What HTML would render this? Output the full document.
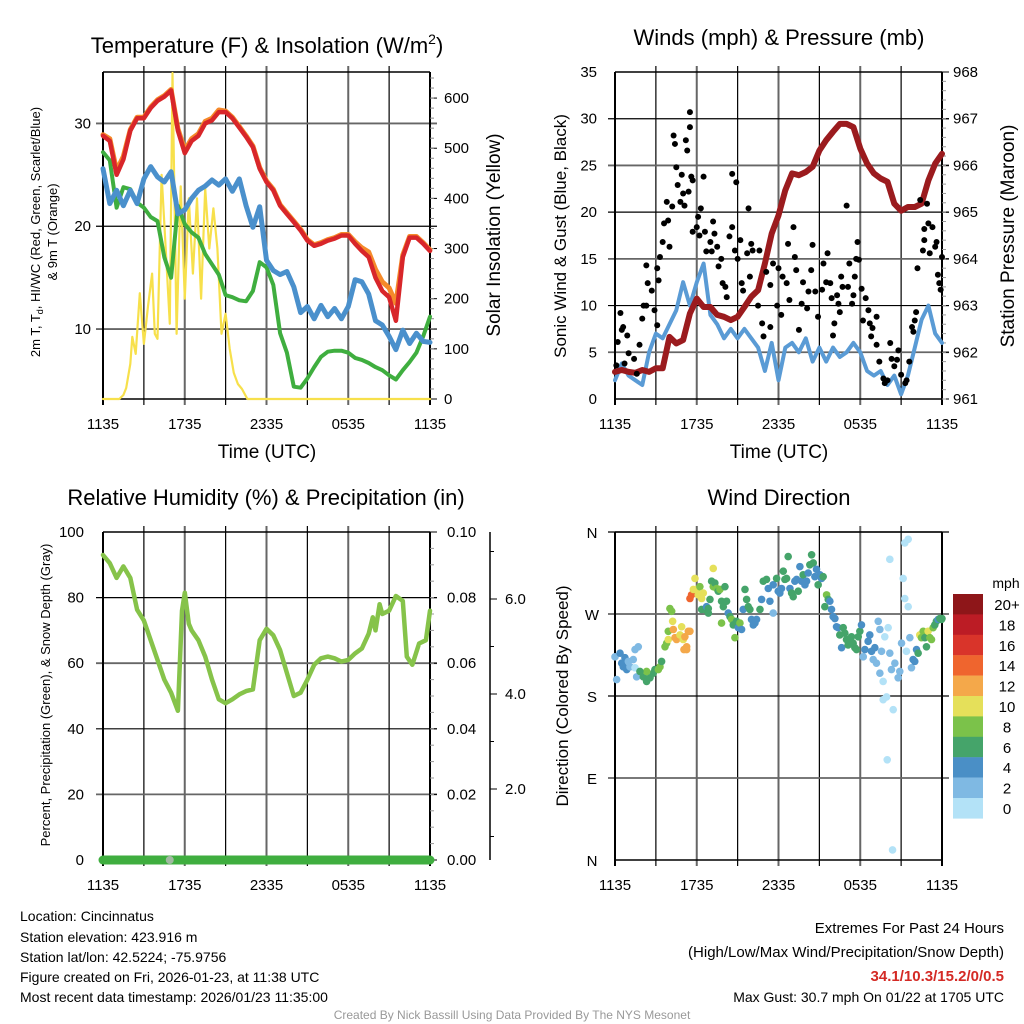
<!DOCTYPE html>
<html><head><meta charset="utf-8"><style>
body{margin:0;background:#fff;}
svg{display:block;font-family:"Liberation Sans",Arial,sans-serif;}
</style></head><body>
<svg id="chart" width="1024" height="1024" viewBox="0 0 1024 1024" xmlns="http://www.w3.org/2000/svg">
<rect width="1024" height="1024" fill="#fff"/>
<g id="g"></g>
<text x="267" y="53" font-size="22" text-anchor="middle">Temperature (F) &amp; Insolation (W/m<tspan font-size="14" dy="-9">2</tspan><tspan dy="9">)</tspan></text>
<text x="779" y="45" font-size="22" text-anchor="middle">Winds (mph) &amp; Pressure (mb)</text>
<text x="266" y="505" font-size="22" text-anchor="middle">Relative Humidity (%) &amp; Precipitation (in)</text>
<text x="779" y="505" font-size="22" text-anchor="middle">Wind Direction</text>
<text x="267" y="458" font-size="19" text-anchor="middle">Time (UTC)</text>
<text x="779" y="458" font-size="19" text-anchor="middle">Time (UTC)</text>
<text transform="translate(40,232) rotate(-90)" font-size="13" text-anchor="middle">2m T, T<tspan font-size="9" dy="3">d</tspan><tspan dy="-3">, HI/WC (Red, Green, Scarlet/Blue)</tspan></text>
<text transform="translate(57,232) rotate(-90)" font-size="13" text-anchor="middle">&amp; 9m T (Orange)</text>
<text transform="translate(500,235) rotate(-90)" font-size="19" text-anchor="middle">Solar Insolation (Yellow)</text>
<text transform="translate(566,236) rotate(-90)" font-size="17" text-anchor="middle">Sonic Wind &amp; Gust (Blue, Black)</text>
<text transform="translate(1014,236) rotate(-90)" font-size="19" text-anchor="middle">Station Pressure (Maroon)</text>
<text transform="translate(50,695) rotate(-90)" font-size="13" text-anchor="middle">Percent, Precipitation (Green), &amp; Snow Depth (Gray)</text>
<text transform="translate(568,696) rotate(-90)" font-size="17" text-anchor="middle">Direction (Colored By Speed)</text>
<g font-size="14">
<text x="20" y="921">Location: Cincinnatus</text>
<text x="20" y="942">Station elevation: 423.916 m</text>
<text x="20" y="962">Station lat/lon: 42.5224; -75.9756</text>
<text x="20" y="982">Figure created on Fri, 2026-01-23, at 11:38 UTC</text>
<text x="20" y="1002">Most recent data timestamp: 2026/01/23 11:35:00</text>
</g>
<g font-size="15" text-anchor="end">
<text x="1004" y="933">Extremes For Past 24 Hours</text>
<text x="1004" y="957">(High/Low/Max Wind/Precipitation/Snow Depth)</text>
<text x="1004" y="981" fill="#d42a25" font-weight="bold">34.1/10.3/15.2/0/0.5</text>
<text x="1004" y="1002" font-size="14">Max Gust: 30.7 mph On 01/22 at 1705 UTC</text>
</g>
<text x="512" y="1019" font-size="12" fill="#999" text-anchor="middle">Created By Nick Bassill Using Data Provided By The NYS Mesonet</text>
</svg>
<script>
// ---- Data ----
const hourTicks = ["1135","1735","2335","0535","1135"];
const halfHours = [0,0.5,1,1.5,2,2.5,3,3.5,4,4.5,5,5.5,6,6.5,7,7.5,8,8.5,9,9.5,10,10.5,11,11.5,12,12.5,13,13.5,14,14.5,15,15.5,16,16.5,17,17.5,18,18.5,19,19.5,20,20.5,21,21.5,22,22.5,23,23.5,24];
const tempRed = [28.8,28.3,25.0,26.5,29.3,30.5,30.5,31.5,32.2,32.6,33.2,29.3,27.1,28.3,28.8,30.0,30.3,31.1,31.1,30.5,29.6,28.7,27.7,25.6,24.3,23.5,22.0,21.2,20.4,19.6,18.6,18.1,18.3,18.6,18.8,19.1,19.1,18.3,17.6,17.0,15.0,13.7,13.1,10.8,17.0,18.9,18.9,18.3,17.6];
const temp9m = [28.9,28.5,25.4,26.8,29.4,30.6,30.6,31.6,32.3,32.7,33.3,29.5,27.4,28.5,29.0,30.2,30.5,31.3,31.2,30.6,29.7,28.8,27.8,25.7,24.4,23.6,22.1,21.3,20.5,19.7,18.7,18.2,18.4,18.7,18.9,19.2,19.2,18.5,17.9,17.5,15.8,14.6,14.0,12.5,17.2,19.0,19.0,18.4,17.7];
const tempDew = [27.2,26.4,21.8,23.8,23.6,22.3,21.8,20.9,20.5,17.0,15.0,22.0,20.2,19.4,18.9,17.3,16.3,15.3,13.3,13.1,12.8,12.7,13.7,16.5,16.0,14.3,9.6,7.7,4.4,4.3,5.2,6.3,7.3,7.8,7.9,7.9,7.7,7.2,7.0,6.7,6.3,6.0,5.5,5.1,6.0,6.8,7.7,9.3,11.2];
const tempWC = [25.6,22.2,23.5,22.0,23.5,22.2,24.6,25.8,24.8,24.3,25.3,21.2,21.6,22.7,23.5,23.9,24.5,24.0,24.6,23.4,24.6,22.0,19.9,21.9,16.7,15.7,15.3,15.6,14.1,11.6,12.2,11.0,12.3,11.2,12.0,11.0,12.2,14.8,14.6,13.4,10.8,10.4,9.3,8.0,9.9,8.6,9.6,8.8,8.7];
const solarT = [0,1.2,1.5,1.7,2.0,2.15,2.4,2.7,3.0,3.3,3.6,3.8,4.0,4.3,4.6,4.9,5.1,5.4,5.7,6.0,6.3,6.6,6.9,7.2,7.5,7.8,8.1,8.4,8.7,9.0,9.3,9.6,9.9,10.2,10.6,24];
const solarV = [0,0,8,22,70,124,90,211,110,185,250,130,120,447,300,150,650,130,424,200,400,250,400,200,420,300,380,300,130,170,100,52,30,20,0,0];
const windBlue = [2.0,3.8,2.5,2.0,1.5,5.0,7.0,6.5,8.0,9.5,12.5,10.0,12.5,14.5,9.0,8.0,6.5,7.5,6.5,7.5,6.5,5.5,3.0,6.0,2.0,5.5,6.0,5.0,6.5,4.0,5.5,4.0,5.5,4.5,5.0,6.0,5.0,3.0,2.5,3.0,1.5,2.5,0.5,2.5,5.5,8.5,10.0,7.0,6.0];
const pressure = [961.58,961.62,961.58,961.56,961.62,961.58,961.66,961.66,962.33,962.19,962.26,962.83,963.15,962.97,962.97,962.80,962.76,962.69,962.76,962.97,963.19,963.33,963.90,964.54,964.93,965.47,965.83,965.79,965.86,965.97,966.32,966.54,966.72,966.89,966.89,966.82,966.36,966.04,965.83,965.72,965.65,965.18,965.03,965.11,965.11,965.18,965.68,966.04,966.25];
const gustT = [0.1,0.2,0.4,0.6,0.5,0.9,1.0,0.7,1.4,1.6,1.8,2.0,2.1,2.3,2.3,2.4,2.7,2.9,3.1,3.1,3.2,3.3,3.5,3.6,3.8,3.9,4.0,4.2,4.3,4.4,4.5,4.6,4.8,4.9,5.0,5.1,5.3,5.2,5.4,5.5,5.5,5.6,5.7,5.7,6.0,6.1,6.3,6.2,6.5,6.6,6.7,7.0,7.1,7.2,7.3,7.5,7.6,7.8,7.9,8.1,8.2,8.4,8.6,8.6,8.8,8.9,9.0,9.2,9.3,9.4,9.7,9.8,9.9,10.0,10.1,10.5,10.6,10.8,10.9,11.1,11.4,11.4,11.6,11.9,12.0,12.2,12.3,12.6,12.7,12.8,13.1,13.2,13.3,13.5,13.7,13.8,14.1,14.2,14.4,14.5,14.7,14.9,15.2,15.3,15.5,15.6,15.8,15.9,16.0,16.1,16.3,16.4,16.5,16.6,16.7,17.0,17.1,17.2,17.4,17.5,17.6,17.7,17.8,17.9,18.1,18.2,18.4,18.6,18.7,18.8,18.9,19.2,19.2,19.4,19.7,19.8,20.0,20.2,20.3,20.5,20.7,20.8,21.0,21.3,21.4,21.6,21.8,21.9,22.0,22.1,22.2,22.4,22.6,22.7,22.7,22.9,23.0,23.1,23.3,23.5,23.6,23.7,23.8,24.0,23.9];
const gustV = [3.6,6.1,9.2,7.7,7.4,6.8,4.9,3.8,4.3,2.7,5.8,8.6,10.0,10.0,14.3,12.4,11.6,9.5,7.9,14.0,12.7,15.2,16.8,18.8,21.1,19.1,16.3,20.6,28.2,27.3,24.8,22.9,21.1,24.0,22.0,20.7,26.6,27.7,22.2,30.7,29.1,23.8,23.4,17.9,18.4,19.5,20.4,17.5,23.8,17.9,15.8,16.8,15.8,19.0,17.7,16.3,14.2,15.0,12.4,12.0,10.9,17.4,24.1,18.4,15.9,23.2,15.0,17.0,12.4,11.6,15.6,20.4,13.1,16.6,15.9,10.0,15.9,8.1,6.7,13.6,12.2,7.7,14.5,10.0,14.0,9.0,13.1,12.4,16.6,10.6,18.4,15.2,13.8,7.4,10.2,12.5,9.7,11.5,13.8,16.5,11.5,8.8,11.7,14.5,12.5,15.6,12.4,10.8,6.8,8.1,11.1,10.2,9.3,13.1,12.0,20.7,12.0,14.5,10.2,11.1,13.1,15.0,16.8,14.9,11.8,8.4,10.8,9.5,8.1,6.7,7.6,8.8,5.8,4.0,2.2,1.7,2.0,6.0,4.3,3.5,4.2,5.2,2.6,1.7,2.0,4.0,7.7,7.2,8.4,9.3,14.0,21.3,15.9,17.0,18.2,20.9,18.8,15.6,18.4,16.3,16.8,13.3,12.4,15.2,11.7];
const rhT = [0,0.5,1,1.5,2,2.5,3,3.5,4,4.5,5,5.5,5.8,6,6.3,6.5,7,7.5,8,8.5,9,9.5,10,10.5,11,11.5,12,12.5,13,13.5,14,14.5,15,15.5,16,16.5,17,17.5,18,18.5,19,19.5,19.8,20,20.3,20.5,21,21.5,22,22.3,22.7,23.2,23.7,24];
const rhV = [93,90.5,86,89.5,86,76.3,73,67,61,55,51,45.5,76,81.5,72,70,67,62,55,49,47.8,49,50.5,51.5,52,67,70.5,68.5,64,57,50,51,55,59.5,61.5,62,61.5,60.5,61,63,64.5,69,74,70,78,75,76,80.5,79,62,59.5,66,67,76];
const precipV = [0,0];
const dirT = [0,0.12,0.37,0.49,0.61,0.73,0.86,0.98,1.1,1.34,1.47,1.59,1.71,1.47,2.08,2.32,2.57,2.81,2.32,2.93,3.18,3.3,3.42,1.83,3.67,3.79,3.91,4.03,4.16,3.91,4.23,4.28,4.4,4.52,4.77,4.89,5.01,5.13,5.26,5.26,5.38,5.5,5.06,5.5,5.62,5.75,5.87,5.99,6.11,6.23,6.36,6.48,6.36,6.6,6.72,6.85,6.85,6.97,7.09,7.21,7.21,7.33,7.46,7.58,7.7,7.82,7.95,8.07,8.19,7.82,8.31,8.44,8.56,8.68,8.8,8.92,9.05,9.17,9.29,9.41,9.54,9.66,9.78,9.9,10.02,10.15,10.27,10.39,10.64,10.76,10.88,11.12,11.25,11.37,11.61,11.61,11.86,11.98,12.1,12.22,12.35,12.47,12.59,12.71,12.84,12.96,13.08,13.2,13.33,13.45,13.57,13.69,13.81,13.94,14.06,14.18,14.3,14.43,14.55,14.67,14.79,14.91,15.04,15.16,15.28,15.4,15.53,15.65,15.77,15.89,16.01,16.14,16.26,16.38,16.5,16.63,16.75,16.87,16.99,17.11,17.24,17.36,17.48,17.6,17.73,17.85,17.97,18.09,18.22,18.34,18.58,18.7,18.83,18.95,19.07,19.19,19.32,19.44,19.44,19.56,19.68,19.8,19.93,20.05,19.68,20.42,19.98,20.17,20.37,20.17,20.29,20.54,20.78,20.9,21.03,21.15,21.27,21.39,21.27,21.52,21.52,21.64,21.76,21.88,22.0,22.13,22.25,22.37,22.49,22.62,22.74,22.86,22.98,23.11,23.23,23.35,23.47,23.59,23.72,23.84,23.96,24.0];
const dirD = [223,198,227,216,212,222,209,218,212,220,231,201,234,211,201,196,200,205,207,209,209,212,218,207,234,238,251,276,273,242,262,253,244,242,247,256,242,245,234,231,251,251,231,287,291,297,309,297,291,300,287,293,275,275,278,276,271,286,306,320,300,304,298,295,297,284,278,300,284,260,271,267,264,258,244,262,255,260,253,275,297,286,278,275,264,258,260,264,275,286,306,308,298,284,271,302,309,295,293,298,317,308,309,333,298,293,289,306,308,295,322,306,313,302,306,315,324,335,326,311,319,302,313,309,311,278,291,286,284,275,267,265,256,255,247,233,255,249,242,236,240,245,238,233,231,245,251,258,223,231,240,247,229,220,233,216,262,253,205,229,196,245,179,255,176,165,110,330,11,227,209,216,200,207,238,309,348,229,287,352,278,244,211,220,218,231,227,247,244,251,244,234,251,244,242,255,258,262,264,265,264,265];
const dirS = [3,3,5,5,5,5,5,3,3,3,3,3,3,1,7,7,7,7,9,7,9,9,7,7,9,9,9,9,9,11,11,13,13,13,11,11,11,13,13,13,13,13,13,15,15,11,11,11,11,9,11,11,7,7,5,7,7,7,7,11,9,7,9,7,9,7,7,7,7,9,5,7,9,7,9,7,5,9,5,5,7,7,7,7,5,5,5,5,7,5,7,7,5,5,3,5,7,5,5,5,7,7,7,7,5,7,7,5,5,7,5,5,7,5,5,5,7,7,7,5,5,7,5,5,7,7,9,7,5,5,5,5,5,5,7,5,7,7,7,7,7,7,7,7,7,7,7,5,3,5,5,5,5,3,5,3,3,3,3,3,1,1,1,1,1,1,1,1,1,3,3,3,3,3,3,1,1,1,1,1,1,3,3,5,5,5,7,11,9,9,7,7,11,9,9,9,7,7,5,7,7,7];
const speedBins = ["20+","18","16","14","12","10","8","6","4","2","0"];
const binColors = ["#8e1619","#bc1c25","#d9342a","#ef652e","#f4a84a","#e5e05a","#7bc24a","#45a46a","#4a8fc6","#7fb9e3","#b3e2f7"];

// ---- Drawing ----
const NS="http://www.w3.org/2000/svg";
const G=document.getElementById('g');
function mk(tag,attrs,parent){const e=document.createElementNS(NS,tag);for(const k in attrs)e.setAttribute(k,attrs[k]);(parent||G).appendChild(e);return e;}
function txt(x,y,s,size,anchor,parent){const e=mk('text',{x:x,y:y,'font-size':size,'text-anchor':anchor},parent);e.textContent=s;return e;}
function sx(p,t){return p.x0+t*(p.x1-p.x0)/24;}
function sy(p,v,lo,hi){return p.y1-(v-lo)/(hi-lo)*(p.y1-p.y0);}
function pathD(p,ts,vs,lo,hi){let d='';for(let i=0;i<ts.length;i++){d+=(i?'L':'M')+sx(p,ts[i]).toFixed(1)+','+sy(p,vs[i],lo,hi).toFixed(1);}return d;}

const P1={x0:103,x1:430,y0:72,y1:399}, P2={x0:615,x1:942,y0:72,y1:399};
const P3={x0:103,x1:430,y0:532,y1:860}, P4={x0:615,x1:942,y0:532,y1:860};

function frame(p,name,hvals,lo,hi){
  const g=mk('g',{});
  
  
  for(let k=1;k<8;k++){const x=sx(p,k*3);mk('line',{x1:x,x2:x,y1:p.y0-6,y2:p.y1+6,stroke:k%2?'#000':'#666','stroke-width':k%2?1.2:2},g);}
  hvals.forEach((v,i)=>{const y=sy(p,v,lo,hi);mk('line',{x1:p.x0-7,x2:p.x1+7,y1:y,y2:y,stroke:i%2?'#000':'#666','stroke-width':i%2?1.2:1.8},g);});
  mk('line',{x1:p.x0,x2:p.x1,y1:p.y1,y2:p.y1,stroke:'#000','stroke-width':1.5},g);
  mk('line',{x1:p.x0,x2:p.x0,y1:p.y0,y2:p.y1+6,stroke:'#000','stroke-width':2},g);
  mk('line',{x1:p.x1,x2:p.x1,y1:p.y0,y2:p.y1+6,stroke:'#000','stroke-width':2},g);
  mk('line',{x1:p.x0,x2:p.x1,y1:p.y0,y2:p.y0,stroke:'#000','stroke-width':1.5},g);
  hourTicks.forEach((s,i)=>{const e=txt(sx(p,i*6),p.y1+30,s,15,'middle',g);
    
    });
}
// Panel 1
frame(P1,'temperature',[10,20,30],3.2,35);
[10,20,30].forEach(v=>{const e=txt(91,sy(P1,v,3.2,35)+5,String(v),15,'end');
  
  });
[0,100,200,300,400,500,600].forEach(v=>{const y=sy(P1,v,0,652);mk('line',{x1:430,x2:437,y1:y,y2:y,stroke:'#000'});const e=txt(444,y+5,String(v),15,'start');
  
  });
for(let v=20;v<652;v+=20){const y=sy(P1,v,0,652);mk('line',{x1:430,x2:434,y1:y,y2:y,stroke:'#888'});}
function series(p,ts,vs,lo,hi,color,w,name){const e=mk('path',{d:pathD(p,ts,vs,lo,hi),fill:'none',stroke:color,'stroke-width':w,'stroke-linejoin':'round','stroke-linecap':'round'});
  
  return e;}
series(P1,solarT,solarV,0,652,'#f7e04b',2.2,'solar-insolation-line');
series(P1,halfHours,tempDew,3.2,35,'#3fae3f',4,'dewpoint-line');
series(P1,halfHours,tempWC,3.2,35,'#4a90cc',5,'wind-chill-line');
series(P1,halfHours,temp9m,3.2,35,'#f58a2a',5,'temp-9m-line');
series(P1,halfHours,tempRed,3.2,35,'#d8262a',4.5,'temp-2m-line');
// Panel 2
frame(P2,'winds',[5,10,15,20,25,30],0,35);
[0,5,10,15,20,25,30,35].forEach(v=>{const e=txt(597,sy(P2,v,0,35)+5,String(v),15,'end');
  
  });
[961,962,963,964,965,966,967,968].forEach(v=>{const y=sy(P2,v,961,968);mk('line',{x1:942,x2:949,y1:y,y2:y,stroke:'#000'});const e=txt(953,y+5,String(v),15,'start');
  
  });
for(let v=961;v<968;v+=0.2){const y=sy(P2,v,961,968);mk('line',{x1:942,x2:946,y1:y,y2:y,stroke:'#999'});}
series(P2,halfHours,windBlue,0,35,'#5a9bd5',4,'sonic-wind-line');
series(P2,halfHours,pressure,961,968,'#9b1b1e',6,'pressure-line');
gustT.forEach((t,i)=>{const c=mk('circle',{cx:sx(P2,t),cy:sy(P2,gustV[i],0,35),r:3,fill:'#000'});
  
  });
// Panel 3
frame(P3,'humidity',[20,40,60,80],0,100);
[0,20,40,60,80,100].forEach(v=>{const e=txt(84,sy(P3,v,0,100)+5,String(v),15,'end');
  
  });
[0,0.02,0.04,0.06,0.08,0.10].forEach(v=>{const y=sy(P3,v,0,0.1);mk('line',{x1:430,x2:437,y1:y,y2:y,stroke:'#000'});const e=txt(447,y+5,v.toFixed(2),15,'start');
  
  });
for(let v=0.005;v<0.1;v+=0.005){const y=sy(P3,v,0,0.1);mk('line',{x1:430,x2:434,y1:y,y2:y,stroke:'#999'});}
mk('line',{x1:490,x2:490,y1:532,y2:860,stroke:'#000','stroke-width':1.5});
[2,4,6].forEach(v=>{const y=884-v*47.5;mk('line',{x1:490,x2:497,y1:y,y2:y,stroke:'#000'});const e=txt(505,y+5,v.toFixed(1),15,'start');
  
  });
[1,3,5,7].forEach(v=>{const y=884-v*47.5;mk('line',{x1:490,x2:494,y1:y,y2:y,stroke:'#000'});});
series(P3,rhT,rhV,0,100,'#86c34a',4.5,'relative-humidity-line');
series(P3,[0,24],precipV,0,0.1,'#3fae3f',9,'precipitation-line');
{const c=mk('circle',{cx:sx(P3,4.9),cy:860,r:4,fill:'#bbb',opacity:0.8});
  
  }
// Panel 4
frame(P4,'wind-direction',[90,180,270],0,360);
mk('line',{x1:P4.x0-7,x2:P4.x1+7,y1:P4.y0,y2:P4.y0,stroke:'#000','stroke-width':1.2});
['N','E','S','W','N'].forEach((s,i)=>{const e=txt(592,sy(P4,i*90,0,360)+6,s,15,'middle');
  
  });
function speedColor(s){const idx=Math.min(10,Math.floor(s/2));return binColors[10-idx];}
dirT.forEach((t,i)=>{const c=mk('circle',{cx:sx(P4,t),cy:sy(P4,dirD[i],0,360),r:3.8,fill:speedColor(dirS[i])});
  
  });
// Colorbar
{const e=txt(1006,588,'mph',14,'middle');
  
  }
speedBins.forEach((s,i)=>{const y=594+i*20.4;const r=mk('rect',{x:953,y:y,width:30,height:20.6,fill:binColors[i]});
  
  
  const e=txt(1007,y+16,s,15,'middle');
  
  });
</script>
</body></html>
